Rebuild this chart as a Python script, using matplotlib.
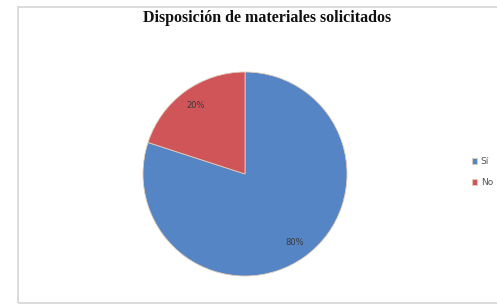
import matplotlib
matplotlib.use("Agg")
import matplotlib.pyplot as plt
from matplotlib.patches import Rectangle

# datos del grafico
categorias = ["Sí", "No"]
valores = [80, 20]
colores = ["#5585c5", "#cf5558"]
titulo = "Disposición de materiales solicitados"

fig = plt.figure(figsize=(4.97, 3.05), dpi=100)
fig.patch.set_facecolor("white")

# marco del grafico
fig.patches.append(Rectangle((18 / 497, 2 / 305), 1.0, 296 / 305,
                             transform=fig.transFigure, fill=False,
                             edgecolor="#d6d6d6", linewidth=1.2))

fig.text(267 / 497, 1 - 18 / 305, titulo, ha="center", va="center",
         family="Liberation Serif", fontweight="bold", fontsize=11.5,
         color="#111111")

# pastel
ax = fig.add_axes([143 / 497, 29 / 305, 204 / 497, 204 / 305])
wedges, _, autotexts = ax.pie(valores, colors=colores, startangle=90,
                              counterclock=False, autopct="%1.0f%%",
                              pctdistance=0.83,
                              wedgeprops=dict(edgecolor="#e3cdb8", linewidth=0.6),
                              textprops=dict(fontsize=6, color="#3a3a3a"))
ax.set_xlim(-1, 1)
ax.set_ylim(-1, 1)
ax.set_aspect("equal")
ax.axis("off")

# leyenda
fig.legend(wedges, categorias, loc="center left",
           bbox_to_anchor=(470 / 497, 1 - 172 / 305), frameon=False,
           fontsize=6.5, handlelength=0.6, handleheight=0.6,
           handletextpad=0.4, labelspacing=1.3, labelcolor="#555555",
           borderaxespad=0.0, borderpad=0.2)

fig.savefig("out.png", dpi=100)
plt.close(fig)
